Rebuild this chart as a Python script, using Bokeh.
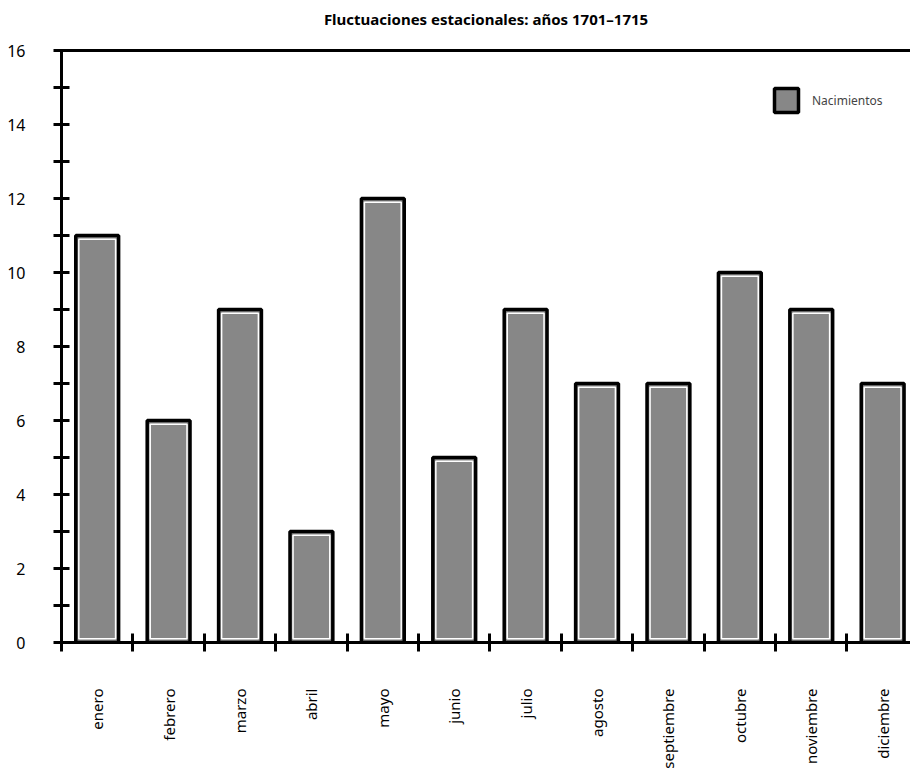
import math
from bokeh.plotting import figure
from bokeh.models import FixedTicker, Range1d, Legend, LegendItem, LinearAxis
from bokeh.embed import file_html
from bokeh.resources import INLINE

months = ["enero", "febrero", "marzo", "abril", "mayo", "junio", "julio",
          "agosto", "septiembre", "octubre", "noviembre", "diciembre"]
values = [11, 6, 9, 3, 12, 5, 9, 7, 7, 10, 9, 7]
y_major = [0, 2, 4, 6, 8, 10, 12, 14, 16]
y_minor = [1, 3, 5, 7, 9, 11, 13, 15]
series_name = "Nacimientos"
title_text = "Fluctuaciones estacionales: años 1701–1715"

FONT = "Noto Sans"
centers = [i + 0.5 for i in range(len(months))]
bounds = list(range(len(months) + 1))

p = figure(width=910, height=774, x_range=Range1d(0, 11.89), y_range=Range1d(0, 16),
           output_backend="svg", toolbar_location=None, title=None,
           x_axis_type=None, y_axis_type=None,
           min_border_left=61, min_border_right=0, min_border_top=50, min_border_bottom=132)
p.outline_line_color = None
p.background_fill_color = "white"
p.border_fill_color = "white"

bars = p.vbar(x=centers, top=values, bottom=0, width=0.6,
              fill_color="#878787", line_color="black", line_width=3.5)
inner_top = [v - 0.1 for v in values]
p.vbar(x=centers, top=inner_top, bottom=0.1, width=0.515,
       fill_color=None, line_color="white", line_width=1.5)

yaxis = LinearAxis(ticker=FixedTicker(ticks=y_major, minor_ticks=y_minor))
yaxis.axis_line_width = 3
yaxis.major_tick_in = 8
yaxis.major_tick_out = 8
yaxis.minor_tick_in = 8
yaxis.minor_tick_out = 8
yaxis.major_tick_line_width = 3
yaxis.minor_tick_line_width = 3
yaxis.major_label_standoff = 28
yaxis.major_label_text_font = FONT
yaxis.major_label_text_font_size = "16px"
yaxis.major_label_text_color = "black"
p.add_layout(yaxis, "left")

xaxis = LinearAxis(ticker=FixedTicker(ticks=centers, minor_ticks=bounds))
xaxis.major_label_overrides = {c: m for c, m in zip(centers, months)}
xaxis.axis_line_width = 3
xaxis.major_tick_in = 0
xaxis.major_tick_out = 0
xaxis.minor_tick_in = 9
xaxis.minor_tick_out = 9
xaxis.minor_tick_line_width = 3
xaxis.major_label_orientation = math.pi / 2
xaxis.major_label_standoff = 37
xaxis.major_label_text_font = FONT
xaxis.major_label_text_font_size = "15px"
xaxis.major_label_text_color = "black"
p.add_layout(xaxis, "below")

# top border line carrying the chart title as its axis label
top_axis = LinearAxis(ticker=FixedTicker(ticks=[]))
top_axis.axis_line_width = 3
top_axis.major_tick_in = 0
top_axis.major_tick_out = 0
top_axis.minor_tick_in = 0
top_axis.minor_tick_out = 0
top_axis.major_label_text_font_size = "0px"
top_axis.major_label_standoff = 0
top_axis.axis_label = title_text
top_axis.axis_label_standoff = 22
top_axis.axis_label_text_font = FONT
top_axis.axis_label_text_font_size = "15px"
top_axis.axis_label_text_font_style = "bold"
top_axis.axis_label_text_color = "black"
p.add_layout(top_axis, "above")

legend = Legend(items=[LegendItem(label=series_name, renderers=[bars])],
                location=(710, 527), padding=0, margin=0, spacing=0,
                glyph_width=30, glyph_height=30, label_standoff=11,
                label_text_font=FONT, label_text_font_size="12px",
                border_line_color=None, background_fill_alpha=0)
p.add_layout(legend, "center")

open("out.html", "w").write(file_html(p, INLINE))
